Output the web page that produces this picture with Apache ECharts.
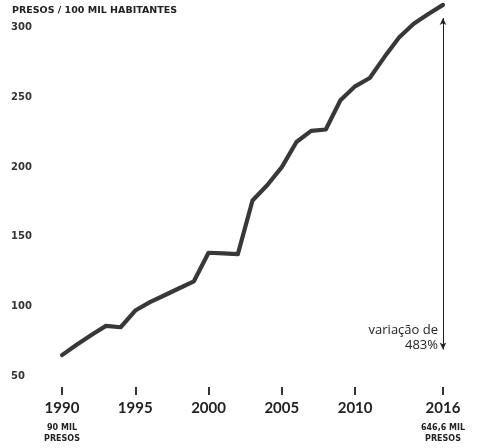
<!DOCTYPE html>
<html>
<head>
<meta charset="utf-8">
<script src="https://cdn.jsdelivr.net/npm/echarts@6/dist/echarts.min.js"></script>
<style>
  html, body { margin: 0; padding: 0; background: #fff; }
  #chart { width: 483px; height: 448px; }
</style>
</head>
<body>
<div id="chart"></div>
<script>
// anos (categorias)
var years = ['1990','1991','1992','1993','1994','1995','1996','1997','1998','1999',
             '2000','2001','2002','2003','2004','2005','2006','2007','2008','2009',
             '2010','2011','2012','2013','2014','2015','2016'];
// presos por 100 mil habitantes
var rates = [65, 72.5, 79.5, 86, 85, 97, 103, 108, 113, 118,
             138.5, 138, 137.5, 176, 187, 200, 218, 226, 227, 248,
             258, 264, 279, 293, 303, 310, 316.5];
var labelYears = ['1990','1995','2000','2005','2010','2016'];
var yTicks = [50, 100, 150, 200, 250, 300];
// notas embaixo dos anos
var noteYears = ['1990', '2016'];
var noteLines = [['90 MIL', 'PRESOS'], ['646,6 MIL', 'PRESOS']];
// seta de variacao (de cima pra baixo, em valores)
var arrowSpan = [307, 69];
var arrowText = ['variação de', '483%'];

var chart = echarts.init(document.getElementById('chart'));

function showYear(i, v){
    return labelYears.indexOf(v) >= 0;
}

var option = {
    backgroundColor: '#fff',
    animation: false,
    title: {
        text: 'PRESOS / 100 MIL HABITANTES',
        left: 12,
        top: 6,
        padding: 0,
        textStyle: { fontSize: 9.5, fontWeight: 'bold', color: '#222', fontFamily: 'DejaVu Sans' }
    },
    grid: { left: 62, right: 40, top: 0, bottom: 72 },
    xAxis: {
        type: 'category',
        data: years,
        boundaryGap: false,
        offset: 11,
        axisLine: { show: false },
        axisTick: { show: true, length: 8, interval: showYear, lineStyle: { color: '#333', width: 2 } },
        axisLabel: {
            interval: showYear,
            margin: 7,
            formatter: function(v){
                var k = noteYears.indexOf(v);
                if (k < 0) return '{y|' + v + '}';
                return '{y|' + v + '}\n{s|' + noteLines[k][0] + '}\n{s|' + noteLines[k][1] + '}';
            },
            rich: {
                y: { fontSize: 15, fontWeight: 'bold', fontFamily: 'Lato', color: '#222', lineHeight: 28 },
                s: { fontSize: 8, fontWeight: 'bold', fontFamily: 'DejaVu Sans', color: '#222', lineHeight: 11 }
            }
        },
        splitLine: { show: false }
    },
    yAxis: {
        type: 'value',
        min: yTicks[0],
        max: 320,
        interval: 50,
        axisLine: { show: false },
        axisTick: { show: false },
        splitLine: { show: false },
        axisLabel: {
            showMaxLabel: false,
            align: 'left',
            margin: 51,
            fontSize: 10,
            fontWeight: 'bold',
            fontFamily: 'DejaVu Sans',
            color: '#333'
        }
    },
    series: [{
        type: 'line',
        data: rates,
        symbol: 'none',
        clip: false,
        lineStyle: { color: '#383838', width: 4.2, cap: 'round', join: 'round' },
        markLine: {
            silent: true,
            symbol: ['arrow', 'arrow'],
            symbolSize: [5, 7],
            label: { show: false },
            lineStyle: { type: 'solid', color: '#222', width: 1 },
            data: [[
                { coord: [years[years.length - 1], arrowSpan[0]] },
                { coord: [years[years.length - 1], arrowSpan[1]] }
            ]]
        }
    }],
    graphic: [{
        type: 'text',
        x: 438,
        y: 323,
        style: {
            text: arrowText.join('\n'),
            textAlign: 'right',
            textVerticalAlign: 'top',
            fontSize: 13,
            lineHeight: 15,
            fontFamily: 'Open Sans',
            fill: '#222'
        }
    }]
};

chart.setOption(option);
</script>
</body>
</html>
